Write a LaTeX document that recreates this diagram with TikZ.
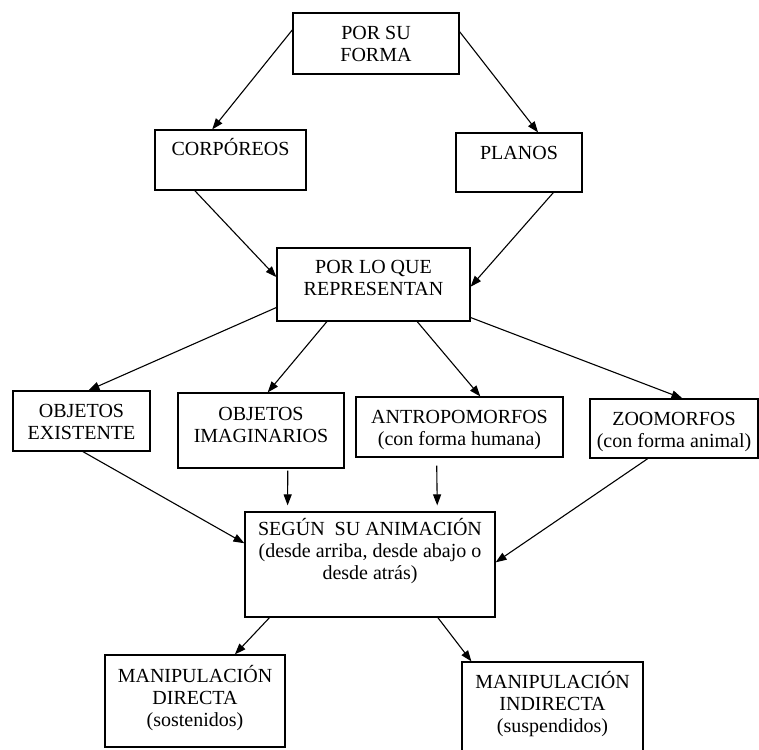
\documentclass[tikz,border=0pt]{standalone}
\usepackage{fontspec}
\setmainfont{Liberation Serif}
\usetikzlibrary{arrows.meta,calc}

% box content: width, height, distance from top edge to first baseline, text
\newcommand\bt[4]{\parbox[c][#2][t]{#1}{\centering\fontsize{20pt}{22pt}\selectfont
  \vspace*{\dimexpr#3-19pt\relax}\rule{0pt}{19pt}#4\par}}

\tikzset{
  box/.style={draw, line width=1.2pt, inner sep=0pt},
  arr/.style={-{Triangle[length=11pt,width=8pt]}, line width=1.1pt},
}

\begin{document}
\begin{tikzpicture}[x=1pt,y=-1pt]
\useasboundingbox (0,0) rectangle (759,749);
\fill[white] (0,0) rectangle (759,749);

% boxes
\node[box] (forma)  at (376,43.5)   {\bt{166pt}{61pt}{27pt}{POR SU\\FORMA}};
\node[box] (corp)   at (230.5,160)  {\bt{151pt}{60pt}{25pt}{CORPÓREOS}};
\node[box] (planos) at (519,162.5)  {\bt{126pt}{59pt}{26pt}{PLANOS}};
\node[box] (repr)   at (373.5,284.5){\bt{193pt}{73pt}{25pt}{POR LO QUE\\REPRESENTAN}};
\node[box] (exist)  at (81.5,421)   {\bt{137pt}{60pt}{26pt}{OBJETOS\\EXISTENTE}};
\node[box] (imag)   at (261,430.5)  {\bt{166pt}{75pt}{27pt}{OBJETOS\\IMAGINARIOS}};
\node[box] (antro)  at (459.5,427)  {\bt{207pt}{60pt}{26pt}{ANTROPOMORFOS\\(con forma humana)}};
\node[box] (zoo)    at (674,428.5)  {\bt{168pt}{59pt}{26pt}{ZOOMORFOS\\(con forma animal)}};
\node[box] (segun)  at (370,564.5)  {\bt{250pt}{105pt}{23pt}{SEGÚN~~SU ANIMACIÓN\\(desde arriba, desde abajo o\\desde atrás)}};
\node[box] (md)     at (195,701)    {\bt{180pt}{92pt}{27pt}{MANIPULACIÓN\\DIRECTA\\(sostenidos)}};
\node[box] (mi)     at (552.5,708)  {\bt{181pt}{92pt}{26pt}{MANIPULACIÓN\\INDIRECTA\\(suspendidos)}};

% connectors
\draw[arr] ($(forma.north west)!0.28!(forma.south west)$) -- ($(corp.north west)!0.38!(corp.north east)$);
\draw[arr] ($(forma.north east)!0.31!(forma.south east)$) -- ($(planos.north west)!0.65!(planos.north east)$);
\draw[arr] ($(corp.south west)!0.265!(corp.south east)$) -- ($(repr.north west)!0.40!(repr.south west)$);
\draw[arr] ($(planos.south west)!0.77!(planos.south east)$) -- ($(repr.north east)!0.53!(repr.south east)$);

\draw[arr] ($(repr.north west)!0.81!(repr.south west)$) -- ($(exist.north west)!0.55!(exist.north east)$);
\draw[arr] ($(repr.south west)!0.26!(repr.south east)$) -- ($(imag.north west)!0.54!(imag.north east)$);
\draw[arr] ($(repr.south west)!0.725!(repr.south east)$) -- ($(antro.north west)!0.60!(antro.north east)$);
\draw[arr] ($(repr.north east)!0.945!(repr.south east)$) -- ($(zoo.north west)!0.55!(zoo.north east)$);

\draw[arr] ($(exist.south west)!0.51!(exist.south east)$) -- ($(segun.north west)!0.30!(segun.south west)$);
\draw[arr, shorten <=2pt, shorten >=6pt] ($(imag.south west)!0.66!(imag.south east)$) -- ($(segun.north west)!0.172!(segun.north east)$);
\draw[arr, shorten <=8pt, shorten >=6pt] ($(antro.south west)!0.39!(antro.south east)$) -- ($(segun.north west)!0.768!(segun.north east)$);
\draw[arr] ($(zoo.south west)!0.345!(zoo.south east)$) -- ($(segun.north east)!0.48!(segun.south east)$);

\draw[arr] ($(segun.south west)!0.10!(segun.south east)$) -- ($(md.north west)!0.72!(md.north east)$);
\draw[arr] ($(segun.south west)!0.77!(segun.south east)$) -- ($(mi.north west)!0.055!(mi.north east)$);
\end{tikzpicture}
\end{document}
